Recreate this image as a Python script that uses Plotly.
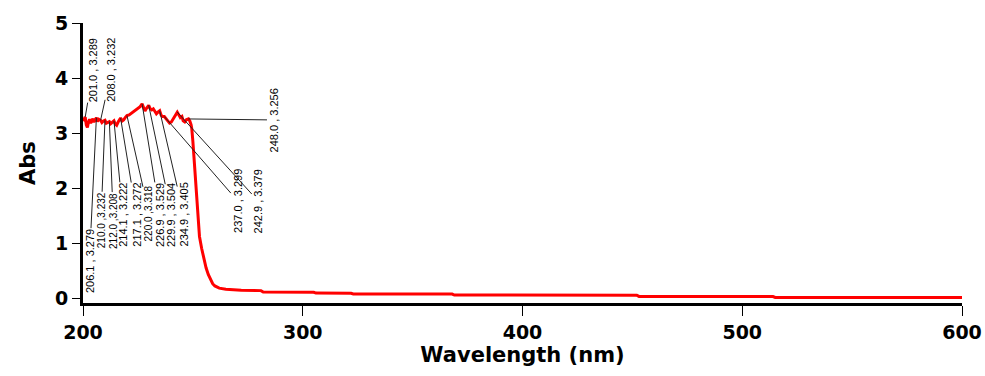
import plotly.graph_objects as go

# UV-Vis absorbance spectrum
wavelength = [
    200.0, 200.5, 201.0, 201.5, 202.0, 202.5, 203.0, 203.5, 204.0, 204.5,
    205.0, 205.5, 206.1, 206.6, 207.2, 208.0, 208.6, 209.3, 210.0, 210.6,
    211.3, 212.0, 212.6, 213.3, 214.1, 214.7, 215.3, 216.0, 217.1, 217.8,
    218.5, 219.2, 220.0, 221.0, 222.0, 223.0, 224.0, 225.0, 226.0, 226.9,
    227.5, 228.2, 228.9, 229.9, 230.6, 231.3, 232.0, 232.7, 233.4, 234.1,
    234.9, 235.6, 236.3, 237.0, 237.8, 238.6, 239.4, 240.2, 241.0, 241.8,
    242.9, 243.6, 244.3, 245.0, 245.6, 246.3, 247.0, 248.0, 248.6, 249.2,
    249.5, 250.0, 250.5, 251.0, 251.5, 252.0, 252.5, 253.0, 254.0, 255.0,
    256.0, 257.0, 258.0, 259.0, 260.0, 262.0, 265.0, 268.0, 272.0, 281.0,
    282.0, 305.0, 306.0, 322.0, 323.0, 368.0, 369.0, 452.0, 453.0, 514.0,
    515.0, 600.0,
]
absorbance = [
    3.22, 3.27, 3.289, 3.15, 3.10, 3.20, 3.25, 3.18, 3.22, 3.26,
    3.20, 3.24, 3.279, 3.21, 3.25, 3.232, 3.19, 3.22, 3.232, 3.18,
    3.20, 3.208, 3.17, 3.19, 3.222, 3.16, 3.14, 3.20, 3.272, 3.22,
    3.24, 3.28, 3.318, 3.33, 3.36, 3.39, 3.42, 3.45, 3.48, 3.529,
    3.46, 3.40, 3.45, 3.504, 3.44, 3.42, 3.44, 3.38, 3.35, 3.38,
    3.405, 3.32, 3.30, 3.299, 3.26, 3.22, 3.18, 3.20, 3.26, 3.32,
    3.379, 3.33, 3.28, 3.30, 3.22, 3.20, 3.24, 3.256, 3.22, 3.15,
    3.08, 2.85, 2.55, 2.20, 1.85, 1.55, 1.30, 1.12, 0.90, 0.72,
    0.55, 0.43, 0.33, 0.26, 0.22, 0.18, 0.16, 0.15, 0.14, 0.135,
    0.11, 0.105, 0.09, 0.088, 0.075, 0.072, 0.055, 0.052, 0.03, 0.027,
    0.01, 0.008,
]

# Peak-pick results (wavelength, absorbance)
peak_wl = [201.0, 206.1, 208.0, 210.0, 212.0, 214.1, 217.1, 220.0,
           226.9, 229.9, 234.9, 237.0, 242.9, 248.0]
peak_abs = [3.289, 3.279, 3.232, 3.232, 3.208, 3.222, 3.272, 3.318,
            3.529, 3.504, 3.405, 3.299, 3.379, 3.256]
peak_text = ["201.0 , 3.289", "206.1 , 3.279", "208.0 , 3.232", "210.0 ,3.232",
             "212.0 ,3.208", "214.1 , 3.222", "217.1 , 3.272", "220.0 ,3.318",
             "226.9 , 3.529", "229.9 , 3.504", "234.9 , 3.405", "237.0 , 3.299",
             "242.9 , 3.379", "248.0 , 3.256"]

# Leader-line offsets (pixels) and font size for each peak label
label_dx = [8, -7, 11, -4, 4, 9, 16, 22, 18, 23, 24, 73, 81, 85]
label_dy = [-47, 143, -50, 100, 99, 94, 97, 98, 111, 110, 104, 84, 89, 1]
label_size = [11, 11, 11, 10, 10, 11, 11, 10, 11, 11, 11, 11, 11, 11]

y_ticks = [0, 1, 2, 3, 4, 5]
x_ticks = [200, 300, 400, 500, 600]

fig = go.Figure()
fig.add_trace(go.Scatter(
    x=wavelength, y=absorbance, mode="lines",
    line=dict(color="#ff0000", width=3),
    showlegend=False, hoverinfo="skip",
))

for wl, ab, txt, dx, dy, fs in zip(peak_wl, peak_abs, peak_text,
                                   label_dx, label_dy, label_size):
    fig.add_annotation(
        x=wl, y=ab, text=txt, textangle=-90,
        showarrow=True, arrowhead=0, arrowwidth=1, arrowcolor="#222222",
        ax=dx, ay=dy, standoff=0, borderpad=0,
        font=dict(family="Arial, Liberation Sans", size=fs, color="#000000"),
    )

axis_font = dict(family="DejaVu Sans", size=19, color="#000000", weight="bold")

fig.update_xaxes(
    range=[200, 600], tickvals=x_ticks, automargin=False,
    showline=True, linecolor="#000000", linewidth=3, mirror=False,
    ticks="outside", ticklen=10, tickwidth=1, tickcolor="#000000",
    showgrid=False, zeroline=False,
    tickfont=axis_font,
    title=dict(text="Wavelength (nm)", font=dict(family="DejaVu Sans", size=21,
                                                 color="#000000", weight="bold"),
               standoff=4),
)
fig.update_yaxes(
    range=[-0.09, 5], tickvals=y_ticks, automargin=False,
    showline=True, linecolor="#000000", linewidth=3, mirror=False,
    ticks="outside", ticklen=8, tickwidth=1, tickcolor="#000000",
    showgrid=False, zeroline=False,
    tickfont=axis_font,
    title=dict(text="Abs", font=dict(family="DejaVu Sans", size=21,
                                     color="#000000", weight="bold"),
               standoff=14),
)

fig.update_layout(
    template="none",
    width=985, height=376,
    margin=dict(l=83, r=23, t=23, b=73),
    paper_bgcolor="#ffffff", plot_bgcolor="#ffffff",
)

fig.write_html("out.html")
